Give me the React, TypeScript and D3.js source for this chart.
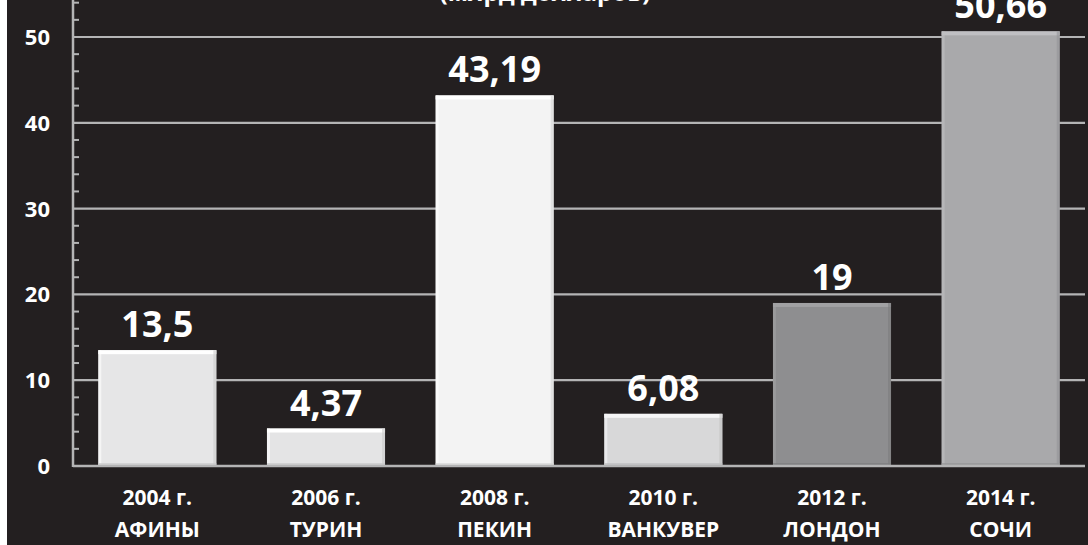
import React from "react";
import * as d3 from "d3";

const categoriesYear = ["2004 г.", "2006 г.", "2008 г.", "2010 г.", "2012 г.", "2014 г."];
const categoriesCity = ["АФИНЫ", "ТУРИН", "ПЕКИН", "ВАНКУВЕР", "ЛОНДОН", "СОЧИ"];
const values = [13.5, 4.37, 43.19, 6.08, 19, 50.66];
const valueLabels = ["13,5", "4,37", "43,19", "6,08", "19", "50,66"];
const barColors = ["#e6e6e7", "#e4e4e5", "#f3f3f3", "#d8d8d9", "#8e8e90", "#a9a9ab"];
const majorTicks = [0, 10, 20, 30, 40, 50];
const minorTicks = d3.range(0, 56, 2).filter((v) => v % 10 !== 0);
const title = "(млрд долларов)";

const W = 1088;
const H = 545;
const FONT = "'Open Sans', 'DejaVu Sans', sans-serif";

export default function App() {
  const x0 = 73;
  const x1 = 1085;
  const x = d3
    .scaleBand<number>()
    .domain(d3.range(values.length))
    .range([x0, x1])
    .paddingInner(0.3)
    .paddingOuter(0.15);
  const y = d3.scaleLinear().domain([0, 50]).range([466, 37]);
  const bw = x.bandwidth();

  return (
    <div style={{ position: "fixed", left: 0, top: 0 }}>
      <svg width={W} height={H} style={{ display: "block" }}>
        <rect x={0} y={0} width={W} height={H} fill="#ffffff" />
        <rect x={7} y={0} width={W - 7} height={H} fill="#231f20" />
        <text
          x={545}
          y={1}
          textAnchor="middle"
          fill="#ffffff"
          fontFamily={FONT}
          fontWeight="bold"
          fontSize={24}
        >
          {title}
        </text>
        {/* gridlines */}
        {majorTicks.map((t) => (
          <line
            key={"g" + t}
            x1={x0}
            x2={x1}
            y1={y(t)}
            y2={y(t)}
            stroke="#b4b4b5"
            strokeWidth={2.2}
          />
        ))}
        {/* y axis */}
        <line x1={x0} x2={x0} y1={0} y2={y(0) + 1} stroke="#b4b4b5" strokeWidth={2.5} />
        {minorTicks.map((t) => (
          <line
            key={"m" + t}
            x1={x0}
            x2={x0 + 6}
            y1={y(t)}
            y2={y(t)}
            stroke="#b4b4b5"
            strokeWidth={2}
          />
        ))}
        {majorTicks.map((t) => (
          <text
            key={"yl" + t}
            x={50}
            y={y(t)}
            dy="0.36em"
            textAnchor="end"
            fill="#ffffff"
            fontFamily={FONT}
            fontWeight="bold"
            fontSize={22}
          >
            {t}
          </text>
        ))}
        {/* bars */}
        {values.map((v, i) => {
          const bx = x(i) as number;
          const by = y(v);
          const bh = y(0) - by;
          const c = d3.color(barColors[i])!;
          const light = d3.color(barColors[i])!.brighter(0.35).formatHex();
          const dark = d3.color(barColors[i])!.darker(0.35).formatHex();
          return (
            <g key={"b" + i}>
              <rect x={bx} y={by} width={bw} height={bh} fill={c.formatHex()} />
              <rect x={bx} y={by} width={bw} height={Math.min(4, bh)} fill={light} />
              <rect x={bx} y={by} width={3} height={bh} fill={light} opacity={0.6} />
              <rect x={bx + bw - 3} y={by} width={3} height={bh} fill={dark} opacity={0.6} />
              <rect x={bx} y={y(0) - 3} width={bw} height={3} fill={dark} opacity={0.7} />
            </g>
          );
        })}
        {/* x axis line */}
        <line x1={x0} x2={x1} y1={y(0)} y2={y(0)} stroke="#b4b4b5" strokeWidth={2.5} />
        {/* value labels */}
        {values.map((v, i) => (
          <text
            key={"vl" + i}
            x={(x(i) as number) + bw / 2}
            y={y(v) - 13}
            textAnchor="middle"
            fill="#ffffff"
            fontFamily={FONT}
            fontWeight="bold"
            fontSize={36}
          >
            {valueLabels[i]}
          </text>
        ))}
        {/* category labels */}
        {categoriesYear.map((c, i) => (
          <text
            key={"cy" + i}
            x={(x(i) as number) + bw / 2}
            y={505}
            textAnchor="middle"
            fill="#ffffff"
            fontFamily={FONT}
            fontWeight="bold"
            fontSize={21}
          >
            {c}
          </text>
        ))}
        {categoriesCity.map((c, i) => (
          <text
            key={"cc" + i}
            x={(x(i) as number) + bw / 2}
            y={537}
            textAnchor="middle"
            fill="#ffffff"
            fontFamily={FONT}
            fontWeight="bold"
            fontSize={21}
          >
            {c}
          </text>
        ))}
      </svg>
    </div>
  );
}
